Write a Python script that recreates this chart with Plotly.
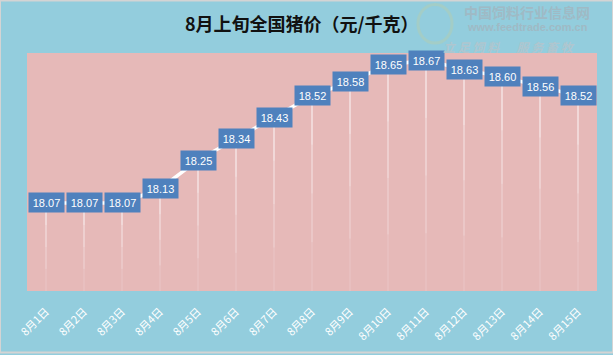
import plotly.graph_objects as go

dates = ["8月1日", "8月2日", "8月3日", "8月4日", "8月5日", "8月6日", "8月7日", "8月8日",
         "8月9日", "8月10日", "8月11日", "8月12日", "8月13日", "8月14日", "8月15日"]
prices = [18.07, 18.07, 18.07, 18.13, 18.25, 18.34, 18.43, 18.52,
          18.58, 18.65, 18.67, 18.63, 18.60, 18.56, 18.52]
y_min, y_max = 17.7, 18.7

W, H = 613, 355
ML, MR, MT, MB = 27, 16, 53, 62
PW, PH = W - ML - MR, H - MT - MB


def px(xp):
    return (xp - ML) / PW


def py(yp):
    return 1 - (yp - MT) / PH


fig = go.Figure()

# drop lines (fading white)
for frac, op in [(1.0, 0.2), (0.75, 0.25), (0.5, 0.3), (0.25, 0.4)]:
    fig.add_trace(go.Scatter(
        x=dates, y=prices, mode="markers",
        marker=dict(size=0.1, color="rgba(0,0,0,0)"),
        error_y=dict(type="data", symmetric=False,
                     array=[0] * len(prices),
                     arrayminus=[(p - y_min) * frac for p in prices],
                     width=0, thickness=1, color=f"rgba(255,255,255,{op})"),
        hoverinfo="skip", showlegend=False))

fig.add_trace(go.Scatter(
    x=dates, y=prices, mode="lines",
    line=dict(color="white", width=3.5),
    hoverinfo="skip", showlegend=False))

for d, p in zip(dates, prices):
    fig.add_annotation(
        x=d, y=p, xref="x", yref="y", text=f"{p:.2f}", showarrow=False,
        font=dict(family="Liberation Sans", size=11, color="white"),
        bgcolor="#4F81BD", width=29, height=13, borderpad=3)

# watermark
wm = "#9FBAC5"
fig.add_shape(type="circle", xref="paper", yref="paper",
              x0=px(418), x1=px(452), y0=py(43), y1=py(4),
              line=dict(color="rgba(170,205,190,0.7)", width=3), fillcolor="rgba(0,0,0,0)")
fig.add_annotation(x=px(527), y=py(12), xref="paper", yref="paper", text="<b>中国饲料行业信息网</b>",
                   showarrow=False, xanchor="center", yanchor="middle",
                   font=dict(family="Noto Sans CJK SC", size=14, color=wm))
fig.add_annotation(x=px(527), y=py(27), xref="paper", yref="paper", text="<b>www.feedtrade.com.cn</b>",
                   showarrow=False, xanchor="center", yanchor="middle",
                   font=dict(family="Liberation Sans", size=11, color=wm))
fig.add_annotation(x=px(509), y=py(46), xref="paper", yref="paper",
                   text="<i><b>立 足 饲 料 　 服 务 畜 牧</b></i>",
                   showarrow=False, xanchor="center", yanchor="middle",
                   font=dict(family="Noto Sans CJK SC", size=12, color="#AFC6CF"))

# title
fig.add_annotation(
    x=px(302), y=py(23), xref="paper", yref="paper", text="<b>8月上旬全国猪价（元/千克）</b>",
    showarrow=False, font=dict(family="Noto Sans CJK SC", size=18, color="#111111"),
    xanchor="center", yanchor="middle")

# outer border
fig.add_shape(type="rect", xref="paper", yref="paper",
              x0=-ML / PW, x1=1 + MR / PW, y0=-MB / PH, y1=1 + MT / PH,
              line=dict(color="#D4D4D4", width=2), fillcolor="rgba(0,0,0,0)", layer="above")

fig.update_layout(
    width=W, height=H,
    margin=dict(l=ML, r=MR, t=MT, b=MB),
    paper_bgcolor="#93CDDD", plot_bgcolor="#E6B9B8",
    showlegend=False,
    xaxis=dict(type="category", range=[-0.5, 14.5], showgrid=False, zeroline=False,
               showline=False, ticks="", tickangle=-45, ticklabelstandoff=11,
               tickfont=dict(family="Noto Sans CJK SC", size=11, color="white")),
    yaxis=dict(range=[y_min, y_max], showgrid=False, zeroline=False, showticklabels=False,
               showline=False, ticks=""),
)

fig.write_html("out.html")
